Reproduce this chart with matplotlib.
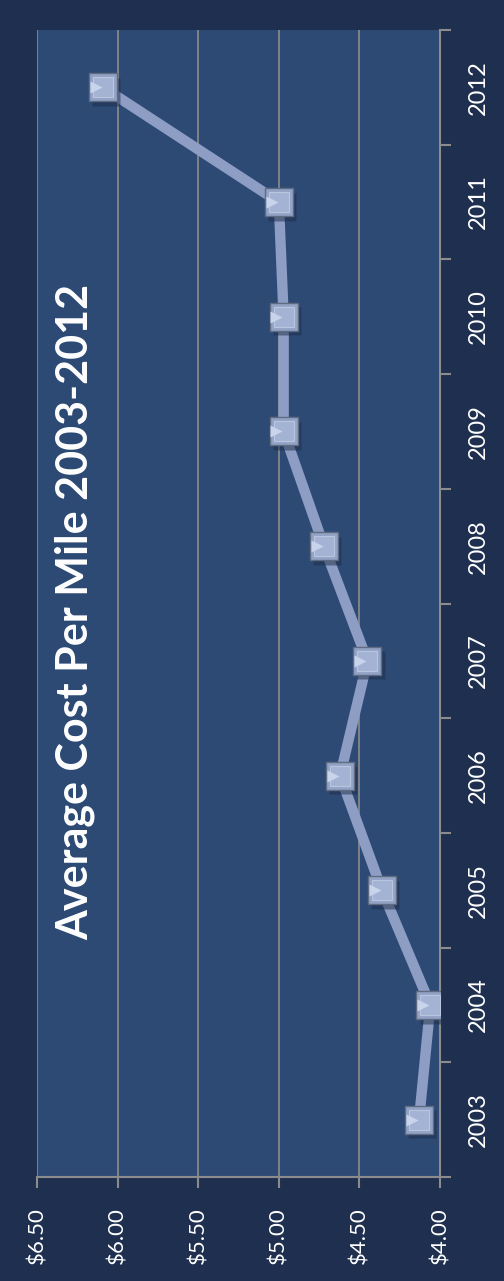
import matplotlib
matplotlib.use("Agg")
import matplotlib.pyplot as plt
from matplotlib.ticker import FixedLocator, FuncFormatter

years = ["2003", "2004", "2005", "2006", "2007", "2008", "2009", "2010", "2011", "2012"]
cost = [4.13, 4.06, 4.36, 4.62, 4.45, 4.72, 4.97, 4.97, 5.00, 6.09]
value_ticks = [4.0, 4.5, 5.0, 5.5, 6.0, 6.5]
title = "Average Cost Per Mile 2003-2012"

W, H = 504, 1281
fig = plt.figure(figsize=(W / 100, H / 100), dpi=100, facecolor="#1f2f4f")
L, R, T, B = 37, 440, 30, 1177
ax = fig.add_axes([L / W, (H - B) / H, (R - L) / W, (B - T) / H])
ax.set_facecolor("#2d4a75")

idx = list(range(len(years)))
ax.plot(cost, idx, color="#8d9dc3", lw=7.5, solid_joinstyle="round", zorder=3)
# shadow
ax.plot([c - 0.02 for c in cost], [i - 0.04 for i in idx], ls="none", marker="s", ms=20,
        mfc="#1c2c48", mec="none", alpha=0.5, zorder=4)
ax.plot(cost, idx, ls="none", marker="s", ms=19.5, mfc="#93a3c6", mec="#5f6b80", mew=1.0, zorder=5)
ax.plot(cost, idx, ls="none", marker="s", ms=14, mfc="#a4b3d4", mec="#b9c6e0", mew=0.8, zorder=6)
ax.plot([c + 0.045 for c in cost], idx, ls="none", marker=">", ms=9, mfc="#c9d4ec", mec="none", zorder=7)

ax.set_xlim(6.5, 4.0)
ax.set_ylim(-0.5, len(years) - 0.5)

ax.xaxis.set_major_locator(FixedLocator(value_ticks))
ax.xaxis.set_major_formatter(FuncFormatter(lambda v, p: f"${v:.2f}"))
ax.grid(axis="x", color="#8c8c8c", lw=1.2, zorder=1)
ax.tick_params(axis="x", colors="#8c8c8c", labelcolor="white", length=8, width=1.5,
               labelsize=16, labelrotation=90, pad=14)
for lab in ax.get_xticklabels():
    lab.set_fontfamily("Lato")

ax.yaxis.tick_right()
ax.yaxis.set_major_locator(FixedLocator(idx))
ax.yaxis.set_minor_locator(FixedLocator([i - 0.5 for i in range(len(years) + 1)]))
ax.set_yticklabels(years, rotation=90, va="center", fontfamily="Lato")
ax.tick_params(axis="y", which="major", length=0, labelcolor="white", labelsize=17, pad=20)
ax.tick_params(axis="y", which="minor", length=8, width=1.5, color="#8c8c8c")

for s in ["top", "left"]:
    ax.spines[s].set_visible(False)
for s in ["bottom", "right"]:
    ax.spines[s].set_color("#8c8c8c")
    ax.spines[s].set_linewidth(1.5)

fig.text(75 / W, (H - 612) / H, title, rotation=90, ha="center", va="center",
         color="white", fontsize=31, fontweight="bold", fontfamily="Lato")

fig.savefig("out.png", dpi=100, facecolor=fig.get_facecolor())
